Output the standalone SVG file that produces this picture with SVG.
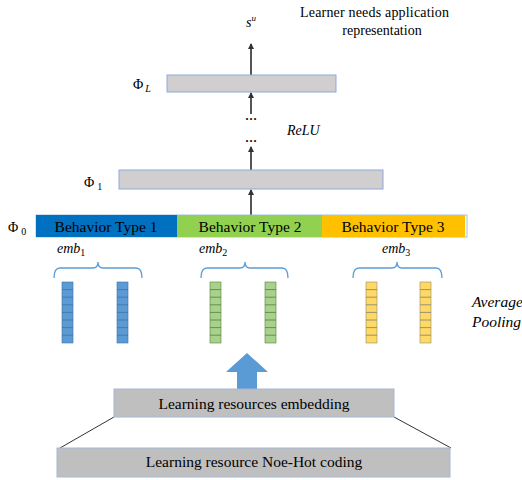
<svg xmlns="http://www.w3.org/2000/svg" width="522" height="480" viewBox="0 0 522 480">
  <style>
    text { font-family: "Liberation Serif", "Times New Roman", serif; fill: #000; }
    .lbl { font-size: 14px; }
    .big { font-size: 15.5px; }
    .it { font-style: italic; }
    .layer { fill: #D0CECE; stroke: #8EA9DB; stroke-width: 1; }
    .base { fill: #BFBFBF; stroke: #A6B8D6; stroke-width: 1; }
    .conn { stroke: #555; stroke-width: 2; fill: none; }
    .brace { stroke: #5B9BD5; stroke-width: 1.3; fill: none; }
    .cellB { fill: #5B9BD5; stroke: #41719C; stroke-width: 0.6; }
    .cellG { fill: #A9D18E; stroke: #548235; stroke-width: 0.6; }
    .cellY { fill: #FFD966; stroke: #8C8C6B; stroke-width: 0.6; }
    .dots { font-size: 12px; font-weight: bold; }
  </style>
  <defs>
    <marker id="tip" viewBox="0 0 6 6" refX="5" refY="3" markerWidth="3" markerHeight="3" orient="auto">
      <path d="M0,0 L6,3 L0,6 z" fill="#333"/>
    </marker>
    <!-- one embedding column of 8 cells -->
    <g id="colB"><rect class="cellB" x="0" y="0" width="11" height="61"/><path d="M0,7.6h11M0,15.2h11M0,22.8h11M0,30.4h11M0,38h11M0,45.6h11M0,53.2h11" stroke="#41719C" stroke-width="0.8"/></g>
    <g id="colG"><rect class="cellG" x="0" y="0" width="11" height="61"/><path d="M0,7.6h11M0,15.2h11M0,22.8h11M0,30.4h11M0,38h11M0,45.6h11M0,53.2h11" stroke="#548235" stroke-width="0.8"/></g>
    <g id="colY"><rect class="cellY" x="0" y="0" width="11" height="61"/><path d="M0,7.6h11M0,15.2h11M0,22.8h11M0,30.4h11M0,38h11M0,45.6h11M0,53.2h11" stroke="#7F7F7F" stroke-width="0.8"/></g>
  </defs>

  <!-- connectors -->
  <g id="connectors">
    <line class="conn" x1="251" y1="75" x2="251" y2="44" marker-end="url(#tip)"/>
    <line class="conn" x1="251" y1="114" x2="251" y2="93" marker-end="url(#tip)"/>
    <line class="conn" x1="251" y1="170" x2="251" y2="147" marker-end="url(#tip)"/>
    <line class="conn" x1="251" y1="215" x2="251" y2="190" marker-end="url(#tip)"/>
    <line x1="114" y1="417" x2="60" y2="448" stroke="#333" stroke-width="1"/>
    <line x1="394" y1="417" x2="451" y2="448" stroke="#333" stroke-width="1"/>
    <polygon points="247,353 268,372 257,372 257,390 237,390 237,372 226,372" fill="#5B9BD5"/>
  </g>

  <!-- output -->
  <g id="output">
    <text class="lbl it" x="246" y="27">s<tspan font-size="9" dy="-6">u</tspan></text>
    <text class="lbl" x="300" y="17" textLength="149">Learner needs application</text>
    <text class="lbl" x="382" y="35" text-anchor="middle">representation</text>
  </g>

  <!-- top layer -->
  <g id="phiL">
    <rect class="layer" x="167" y="75" width="169" height="17"/>
    <text class="lbl" x="133" y="89">Φ<tspan class="it" font-size="10" dx="2" dy="3">L</tspan></text>
  </g>

  <g id="relu">
    <text class="dots" x="251" y="123" text-anchor="middle">···</text>
    <text class="dots" x="251" y="145" text-anchor="middle">···</text>
    <text class="lbl it" x="287" y="135">ReLU</text>
  </g>

  <!-- first hidden layer -->
  <g id="phi1">
    <rect class="layer" x="119" y="170" width="264" height="19"/>
    <text class="lbl" x="84" y="187">Φ<tspan font-size="10" dx="3" dy="3">1</tspan></text>
  </g>

  <!-- behavior concat layer -->
  <g id="phi0">
    <rect x="36" y="215" width="431" height="22" fill="none" stroke="#9DC3E6" stroke-width="1"/>
    <rect x="36" y="215" width="141" height="22" fill="#0070C0"/>
    <rect x="177" y="215" width="145" height="22" fill="#92D050"/>
    <rect x="322" y="215" width="143" height="22" fill="#FFC000"/>
    <text class="big" x="106" y="232" text-anchor="middle">Behavior Type 1</text>
    <text class="big" x="250" y="232" text-anchor="middle">Behavior Type 2</text>
    <text class="big" x="393" y="232" text-anchor="middle">Behavior Type 3</text>
    <text class="lbl" x="8" y="232">Φ<tspan font-size="10" dx="3" dy="3">0</tspan></text>
  </g>

  <!-- embeddings -->
  <g id="emb1">
    <text class="lbl it" x="57" y="253">emb<tspan font-size="10" font-style="normal" dy="3">1</tspan></text>
    <path class="brace" d="M54,278 Q54,268 60,268 L93,268 Q98,268 98,262 Q98,268 103,268 L136,268 Q142,268 142,278"/>
    <use href="#colB" x="62" y="282"/>
    <use href="#colB" x="117" y="282"/>
  </g>
  <g id="emb2">
    <text class="lbl it" x="199" y="253">emb<tspan font-size="10" font-style="normal" dy="3">2</tspan></text>
    <path class="brace" d="M201,278 Q201,268 207,268 L240,268 Q245,268 245,262 Q245,268 250,268 L282,268 Q288,268 288,278"/>
    <use href="#colG" x="210" y="282"/>
    <use href="#colG" x="265" y="282"/>
  </g>
  <g id="emb3">
    <text class="lbl it" x="382" y="253">emb<tspan font-size="10" font-style="normal" dy="3">3</tspan></text>
    <path class="brace" d="M353,278 Q353,268 359,268 L392,268 Q397,268 397,262 Q397,268 402,268 L436,268 Q442,268 442,278"/>
    <use href="#colY" x="366" y="282"/>
    <use href="#colY" x="420" y="282"/>
  </g>

  <g id="pooling">
    <text class="big it" x="472" y="307">Average</text>
    <text class="big it" x="472" y="327">Pooling</text>
  </g>

  <!-- input layers -->
  <g id="embedding">
    <rect class="base" x="114" y="389" width="280" height="28"/>
    <text class="big" x="254" y="409" text-anchor="middle">Learning resources embedding</text>
  </g>
  <g id="onehot">
    <rect class="base" x="57" y="448" width="393" height="29"/>
    <text class="big" x="254" y="467" text-anchor="middle">Learning resource Noe-Hot coding</text>
  </g>
</svg>
